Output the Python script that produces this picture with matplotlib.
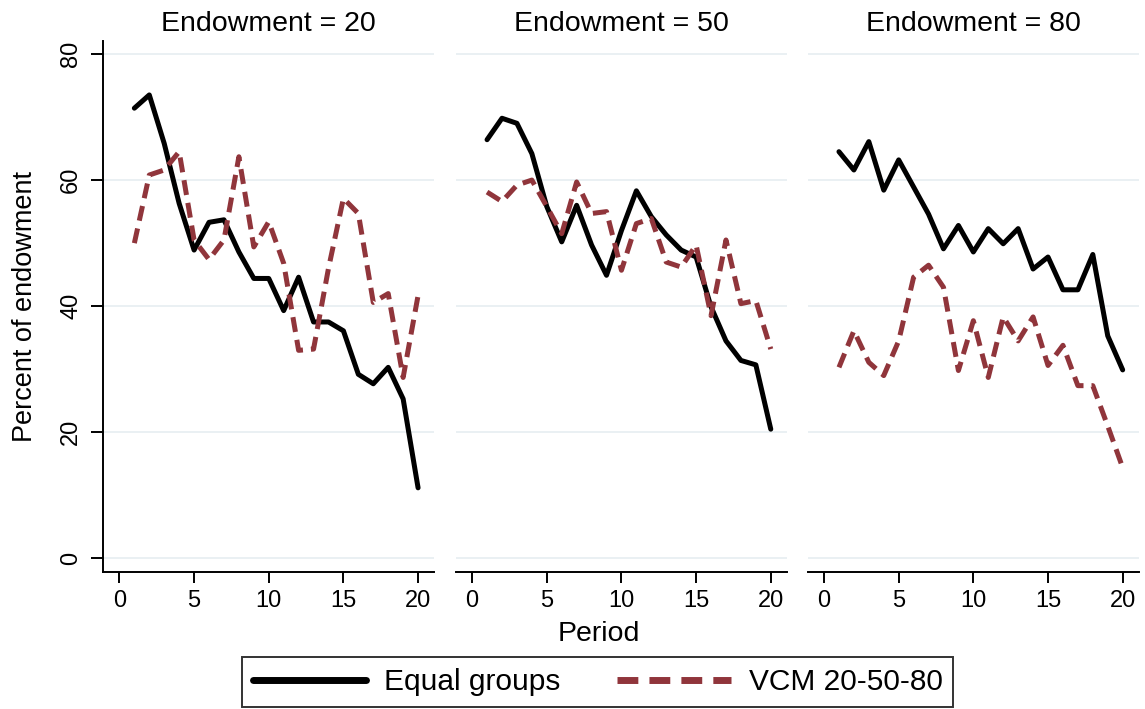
import matplotlib
matplotlib.use('Agg')
import matplotlib.pyplot as plt

# Data (percent of endowment contributed)
periods = list(range(1, 21))
endowments = [20, 50, 80]

equal_20 = [71.4, 73.5, 65.8, 56.3, 48.9, 53.3, 53.7, 48.6, 44.4, 44.4,
            39.3, 44.6, 37.5, 37.5, 36.1, 29.2, 27.7, 30.3, 25.3, 11.2]
vcm_20 = [50.0, 60.8, 61.6, 64.5, 50.5, 47.4, 50.5, 63.7, 49.4, 53.4,
          46.8, 33.0, 33.2, 46.0, 57.1, 54.7, 40.6, 42.0, 28.7, 41.7]

equal_50 = [66.4, 69.8, 69.0, 64.2, 55.8, 50.2, 56.0, 49.7, 44.9, 52.0,
            58.3, 54.2, 51.3, 48.9, 47.8, 39.9, 34.5, 31.4, 30.7, 20.5]
vcm_50 = [58.1, 56.6, 59.2, 60.0, 55.8, 51.5, 59.7, 54.7, 55.0, 45.7,
          53.1, 53.9, 47.0, 46.2, 49.7, 38.5, 50.5, 40.4, 40.9, 33.2]

equal_80 = [64.5, 61.6, 66.1, 58.4, 63.2, 58.9, 54.6, 49.1, 52.8, 48.6,
            52.3, 49.9, 52.3, 45.9, 47.8, 42.6, 42.6, 48.2, 35.3, 29.9]
vcm_80 = [30.3, 36.1, 31.1, 29.0, 34.5, 44.6, 46.5, 43.0, 29.8, 37.7,
          28.7, 38.3, 34.5, 38.3, 30.6, 33.8, 27.4, 27.4, 21.0, 14.4]

equal_series = [equal_20, equal_50, equal_80]
vcm_series = [vcm_20, vcm_50, vcm_80]

xticks = [0, 5, 10, 15, 20]
yticks = [0, 20, 40, 60, 80]

plt.rcParams['font.family'] = ['Liberation Sans', 'DejaVu Sans']

W, H = 1145, 709
fig = plt.figure(figsize=(W / 100, H / 100), dpi=100)

red = '#90353b'
grid_col = '#e6eef1'
lefts = [103, 455.7, 807.6]
pw = 331.5
top, bottom = 40.7, 571.7

axes = []
for i, (e, eq, vc) in enumerate(zip(endowments, equal_series, vcm_series)):
    ax = fig.add_axes([lefts[i] / W, 1 - bottom / H, pw / W, (bottom - top) / H])
    ax.plot(periods, eq, color='black', lw=3.6, solid_capstyle='round',
            solid_joinstyle='round', label='Equal groups')
    ax.plot(periods, vc, color=red, lw=3.6, linestyle=(0, (3, 1.6)),
            dash_capstyle='butt', label='VCM 20-50-80')
    ax.set_xlim(-1.1, 21.1)
    ax.set_ylim(-2.1, 82.1)
    ax.set_xticks(xticks)
    ax.set_yticks(yticks)
    ax.grid(axis='y', color=grid_col, lw=1.2)
    ax.set_axisbelow(True)
    for s in ['top', 'right']:
        ax.spines[s].set_visible(False)
    ax.spines['bottom'].set_linewidth(1.4)
    ax.spines['left'].set_linewidth(1.4)
    ax.tick_params(axis='x', length=8, width=1.4, labelsize=17, pad=5)
    if i == 0:
        ax.tick_params(axis='y', length=9, width=1.4, labelsize=17,
                       labelrotation=90, pad=6)
        for lab in ax.get_yticklabels():
            lab.set_va('center')
    else:
        ax.spines['left'].set_visible(False)
        ax.tick_params(axis='y', left=False, labelleft=False)
    ax.set_title('Endowment = %d' % e, fontsize=20.5, pad=7)
    axes.append(ax)

fig.text(25 / W, 1 - 306 / H, 'Percent of endowment', rotation=90,
         ha='center', va='center', fontsize=19.5)
fig.text(599 / W, 1 - 634 / H, 'Period', ha='center', va='center', fontsize=20.5)

handles, labels = axes[0].get_legend_handles_labels()
leg = fig.legend(handles, labels, ncol=2, loc='center',
                 bbox_to_anchor=(597.5 / W, 1 - 682 / H),
                 fontsize=21.5, frameon=True, fancybox=False,
                 handlelength=3.8, handletextpad=0.6, columnspacing=1.9,
                 borderpad=0.36, borderaxespad=0)
leg.get_frame().set_edgecolor('black')
leg.get_frame().set_linewidth(1.4)
for h in leg.get_lines():
    h.set_linewidth(5)

fig.savefig('out.png', dpi=100)
